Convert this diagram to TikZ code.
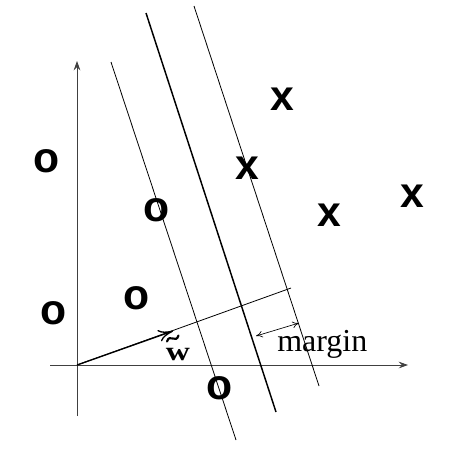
\documentclass[tikz,border=0pt]{standalone}
\usepackage{fontspec}
\setmainfont{Liberation Serif}
\setsansfont{Liberation Sans}
\usetikzlibrary{arrows.meta}
\begin{document}
\begin{tikzpicture}[x=0.75pt,y=-0.75pt,
  pt/.style={font=\sffamily\bfseries\fontsize{32}{32}\selectfont, inner sep=0pt, anchor=center},
  hyp/.style={line width=0.6pt},
  axis/.style={line width=0.6pt, draw=black!75, -{Stealth[length=7pt,width=5pt,inset=2.5pt]}}]
\useasboundingbox (0,0) rectangle (470,461);
% axes
\coordinate (xs) at (50,365);
\coordinate (xe) at (408,365);
\coordinate (ys) at (77,416);
\coordinate (ye) at (77,61);
\coordinate (O) at (77,365);
\draw[axis] (xs) -- (xe);
\draw[axis] (ys) -- (ye);
% hyperplanes
\coordinate (l1a) at (111,62);
\coordinate (l1b) at (236,440);
\coordinate (l2a) at (146,13);
\coordinate (l2b) at (276,412);
\coordinate (l3a) at (194,6);
\coordinate (l3b) at (319,386);
\draw[hyp] (l1a) -- (l1b);
\draw[line width=1.1pt] (l2a) -- (l2b);
\draw[hyp] (l3a) -- (l3b);
% normal line and w vector
\coordinate (nend) at (291,288);
\coordinate (wtip) at (173,331);
\draw[hyp] (O) -- (nend);
\draw[line width=1pt, -{To[length=11pt,width=9pt]}] (O) -- (wtip);
\node[font=\bfseries\fontsize{20}{20}\selectfont, inner sep=0pt, anchor=base] (wl) at (178,360) {\scalebox{1.25}[1]{w}};
\coordinate (ta) at (167,341.5);
\coordinate (tb) at (178.5,335.5);
\draw[line width=1.6pt, line cap=round] (ta) .. controls (169.5,333) and (176,344) .. (tb);
% margin
\coordinate (ma) at (256,336);
\coordinate (mb) at (299,323);
\draw[line width=0.5pt, {To[length=5pt,width=5pt]}-{To[length=5pt,width=5pt]}] (ma) -- (mb);
\node[font=\fontsize{24}{24}\selectfont, inner sep=0pt, anchor=base west] (ml) at (277,351) {margin};
% points
\node[pt] (o1) at (47,161) {o};
\node[pt] (o2) at (157,210) {o};
\node[pt] (o3) at (137,298) {o};
\node[pt] (o4) at (54,313) {o};
\node[pt] (o5) at (220,388) {o};
\node[pt] (x1) at (282,99) {x};
\node[pt] (x2) at (247,168) {x};
\node[pt] (x3) at (329,215) {x};
\node[pt] (x4) at (412,196) {x};
\end{tikzpicture}
\end{document}
